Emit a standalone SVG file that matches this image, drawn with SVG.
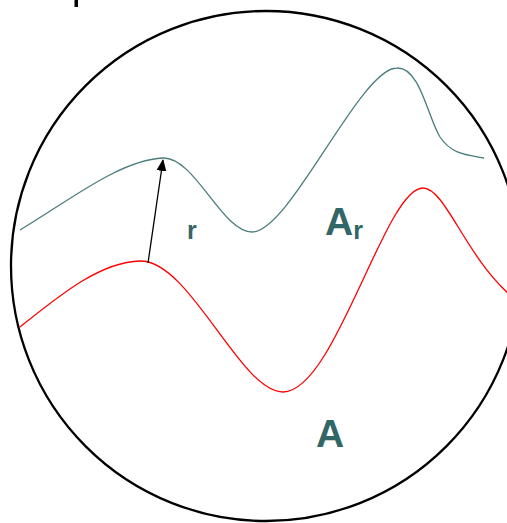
<svg xmlns="http://www.w3.org/2000/svg" width="507" height="523" viewBox="0 0 507 523">
<style>
.lbl{font-family:"Liberation Sans",Arial,sans-serif;font-weight:bold;fill:#336666}
.curve{fill:none;stroke-width:1.3}
</style>
<defs>
<marker id="ah" markerUnits="userSpaceOnUse" markerWidth="12" markerHeight="10" refX="11" refY="5" orient="auto">
<path d="M0,0 L12,5 L0,10 Z" fill="#000"/>
</marker>
</defs>
<rect width="507" height="523" fill="#fff"/>
<rect x="74.5" y="0" width="3.5" height="7" fill="#000"/>
<g id="boundary">
<circle cx="266" cy="266" r="255" fill="none" stroke="#000" stroke-width="2.3"/>
</g>
<g id="curve-ar">
<path class="curve" stroke="#4a7c7c" d="M20,230 C70,200 120,160 163,158 C195,157 222,232 252,232 C290,232 360,68 397,68 C420,67 428,118 440,137 C452,155 468,155 484,158"/>
</g>
<g id="curve-a">
<path class="curve" stroke="#ff0000" d="M20,327 C60,295 100,262 140,261 C190,260 240,392 283,392 C335,392 385,188 423,188 C445,188 465,255 510,295"/>
</g>
<g id="connectors">
<line x1="148" y1="263" x2="163" y2="160" stroke="#000" stroke-width="1.3" marker-end="url(#ah)"/>
</g>
<g id="label-r"><text class="lbl" x="187" y="239" font-size="25">r</text></g>
<g id="label-ar"><text class="lbl" x="325" y="235" font-size="39">A<tspan font-size="25" dy="4">r</tspan></text></g>
<g id="label-a"><text class="lbl" x="316" y="447" font-size="39">A</text></g>
</svg>
